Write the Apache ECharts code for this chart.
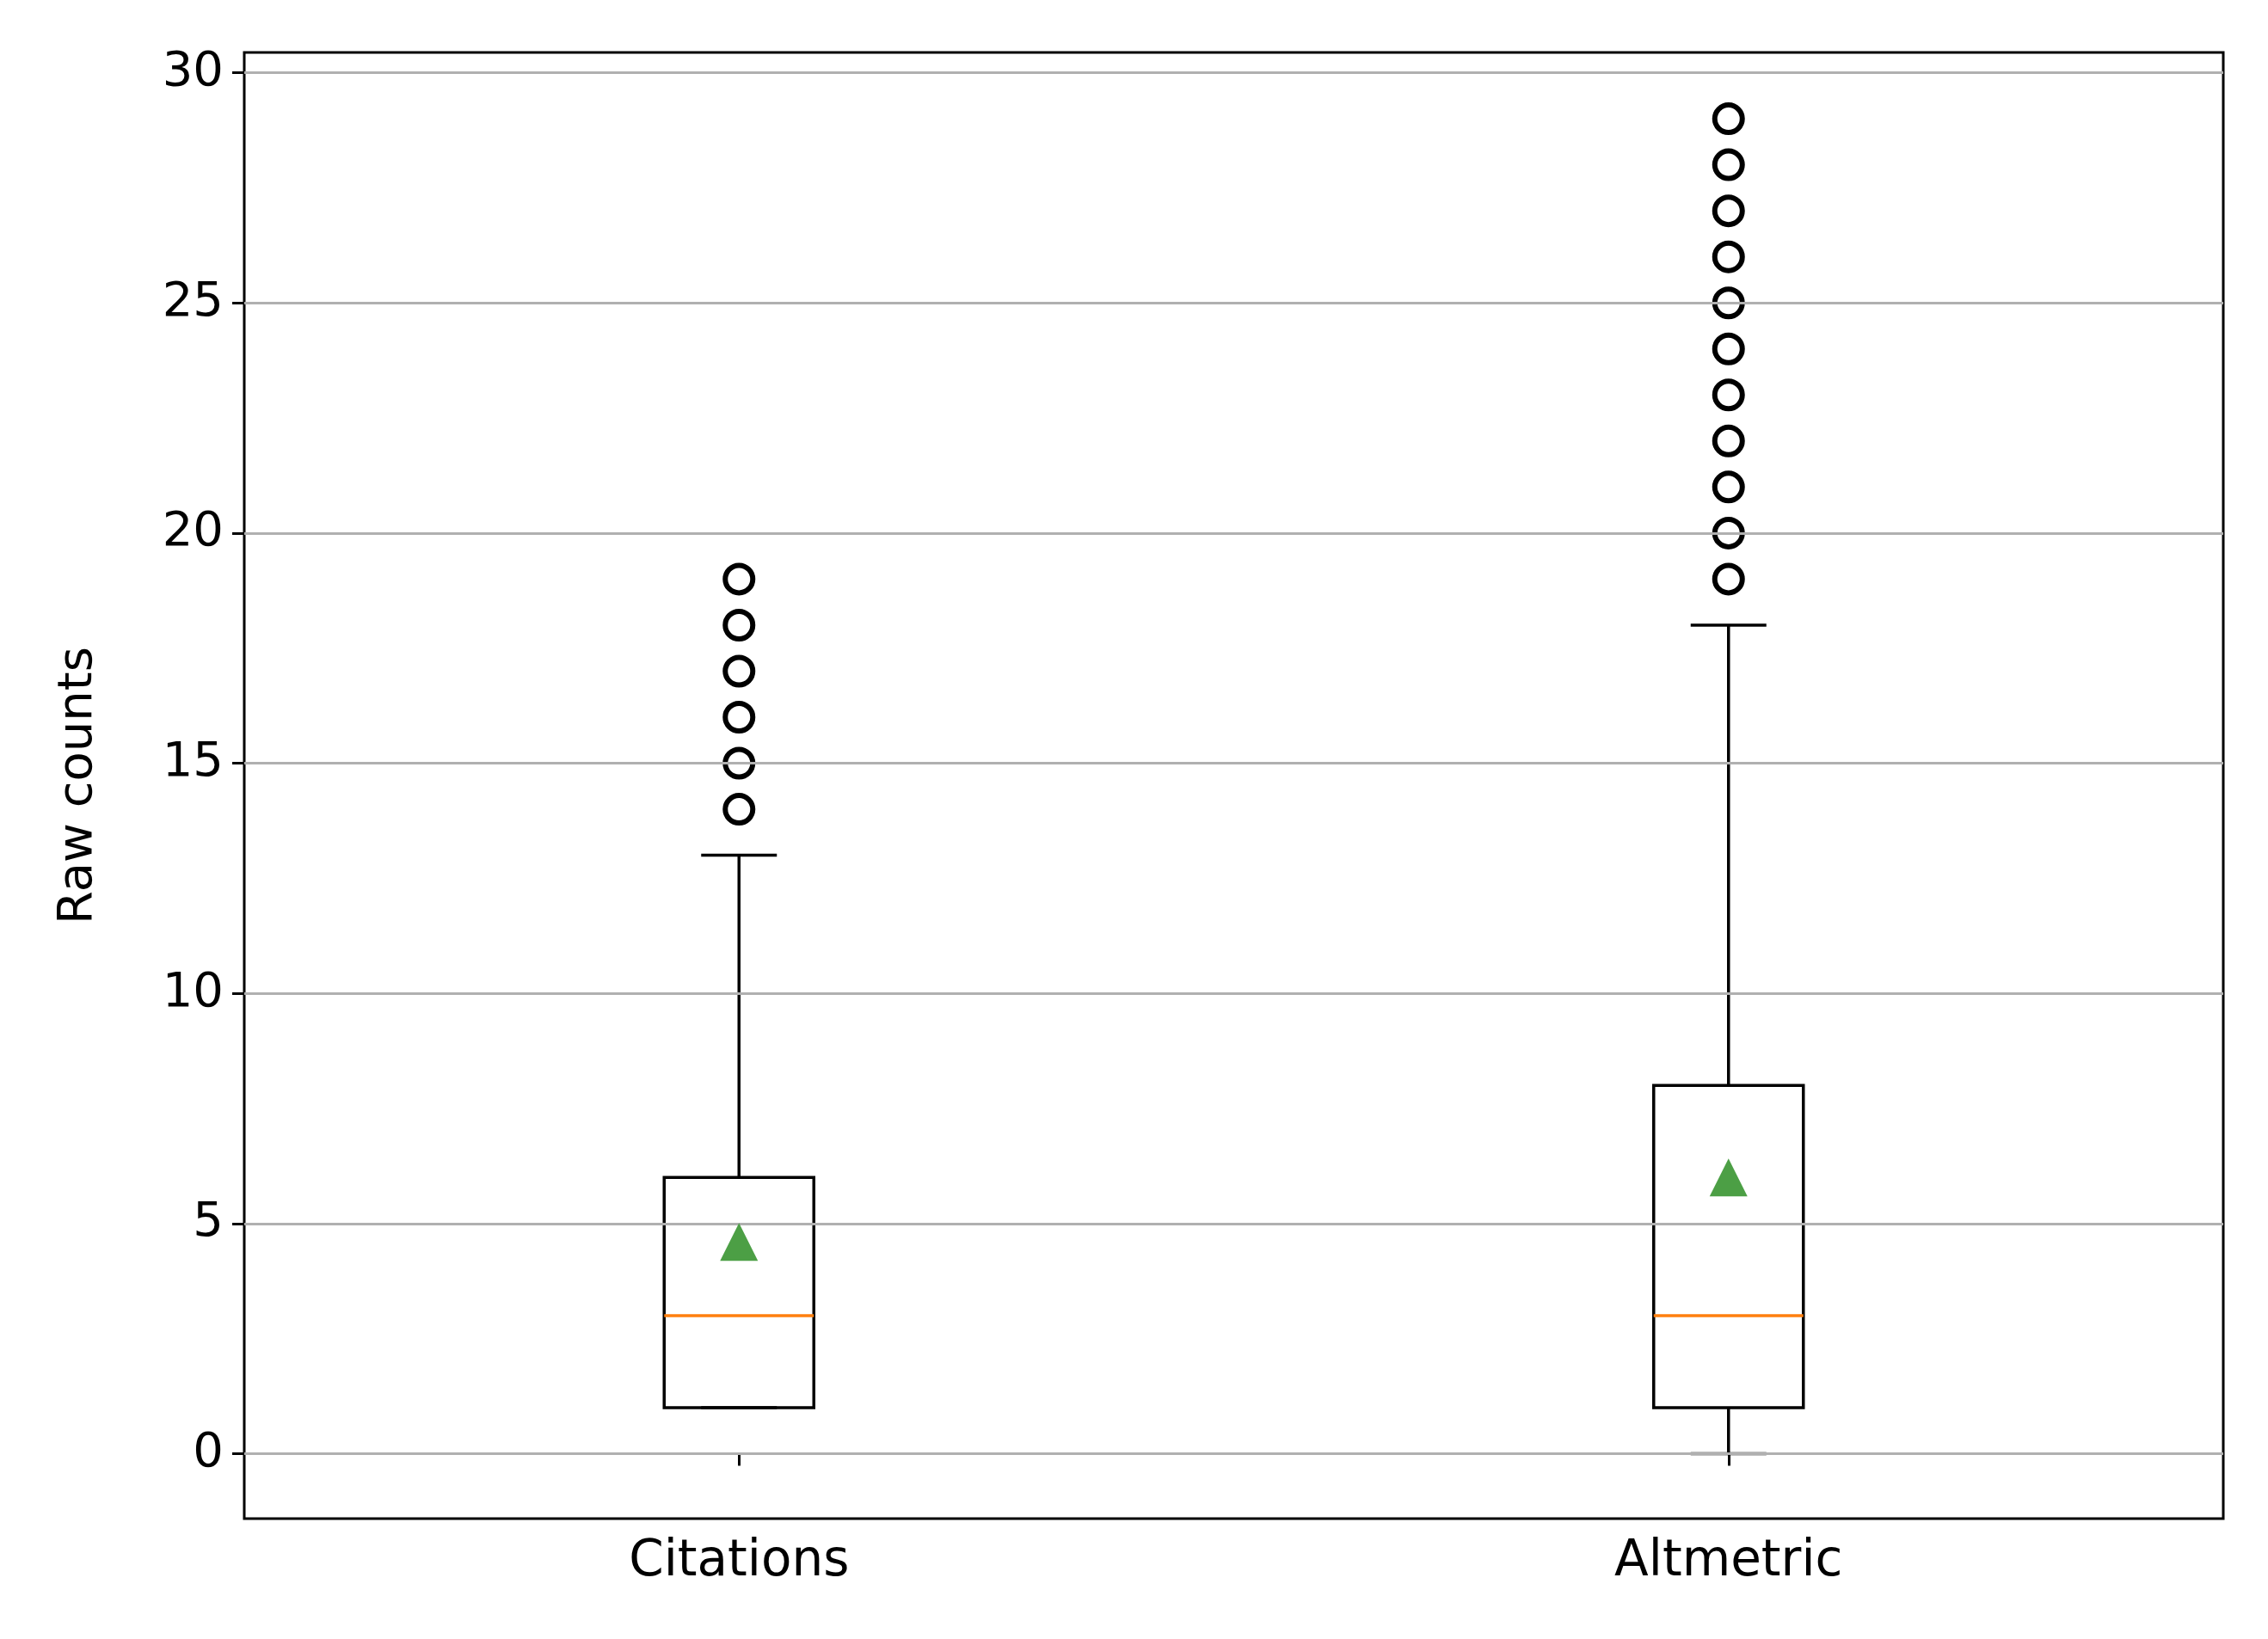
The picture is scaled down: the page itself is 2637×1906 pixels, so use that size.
<!DOCTYPE html>
<html>
<head>
<meta charset="utf-8">
<script src="https://cdn.jsdelivr.net/npm/echarts@6/dist/echarts.min.js"></script>
<style>html,body{margin:0;padding:0;background:#fff}#chart{width:2637px;height:1906px}</style>
</head>
<body>
<div id="chart"></div>
<script>
var categories = ['Citations', 'Altmetric'];
// [lower whisker, q1, median, q3, upper whisker]
var boxStats = [[1, 1, 3, 6, 13], [0, 1, 3, 8, 18]];
var means = [4.6, 6.0];
var citationOutliers = [14, 15, 16, 17, 18, 19];
var altmetricOutliers = [19, 20, 21, 22, 23, 24, 25, 26, 27, 28, 29];
var yTicks = [0, 5, 10, 15, 20, 25, 30];

var myChart = echarts.init(document.getElementById('chart'));
var font = 'DejaVu Sans';

var outlierData = [];
citationOutliers.forEach(function (v) { outlierData.push(['Citations', v]); });
altmetricOutliers.forEach(function (v) { outlierData.push(['Altmetric', v]); });

function renderBox(params, api) {
    var x = api.value(0);
    var lo = api.coord([x, api.value(1)]);
    var q1 = api.coord([x, api.value(2)]);
    var med = api.coord([x, api.value(3)]);
    var q3 = api.coord([x, api.value(4)]);
    var hi = api.coord([x, api.value(5)]);
    var half = 87, cap = 44, cx = lo[0];
    var ls = { stroke: '#000', lineWidth: 3.5 };
    return {
        type: 'group',
        children: [
            { type: 'line', shape: { x1: cx, y1: q3[1], x2: cx, y2: hi[1] }, style: ls },
            { type: 'line', shape: { x1: cx, y1: q1[1], x2: cx, y2: lo[1] }, style: ls },
            { type: 'line', shape: { x1: cx - cap, y1: hi[1], x2: cx + cap, y2: hi[1] }, style: ls },
            { type: 'line', shape: { x1: cx - cap, y1: lo[1], x2: cx + cap, y2: lo[1] }, style: ls },
            { type: 'rect', shape: { x: cx - half, y: q3[1], width: half * 2, height: q1[1] - q3[1] }, style: { fill: 'none', stroke: '#000', lineWidth: 3.5 } },
            { type: 'line', shape: { x1: cx - half, y1: med[1], x2: cx + half, y2: med[1] }, style: { stroke: '#ff7f0e', lineWidth: 3.5 } }
        ]
    };
}

option = {
    animation: false,
    backgroundColor: '#fff',
    grid: {
        left: 284, right: 52, top: 61, bottom: 140,
        show: true, borderColor: '#000', borderWidth: 3, backgroundColor: 'transparent'
    },
    xAxis: {
        type: 'category',
        data: categories,
        boundaryGap: true,
        axisLine: { show: false },
        axisTick: { show: true, alignWithLabel: true, length: 14, lineStyle: { color: '#000', width: 3 } },
        axisLabel: { color: '#000', fontSize: 58, fontFamily: font, margin: 22 },
        splitLine: { show: false }
    },
    yAxis: {
        type: 'value',
        min: -1.41, max: 30.44,
        name: 'Raw counts',
        nameLocation: 'middle',
        nameGap: 165,
        nameTextStyle: { color: '#000', fontSize: 56, fontFamily: font },
        axisLine: { show: false },
        axisTick: { show: true, length: 14, customValues: yTicks, lineStyle: { color: '#000', width: 3 } },
        axisLabel: { color: '#000', fontSize: 56, fontFamily: font, margin: 24, customValues: yTicks },
        splitLine: { show: false }
    },
    series: [
        {
            type: 'line',
            data: [],
            z: 1,
            markLine: {
                silent: true, symbol: 'none', label: { show: false },
                lineStyle: { color: '#b0b0b0', width: 3, type: 'solid' },
                data: yTicks.map(function (v) { return { yAxis: v }; })
            }
        },
        {
            type: 'custom',
            renderItem: renderBox,
            data: boxStats.map(function (s, i) { return [i].concat(s); }),
            z: 3
        },
        {
            type: 'scatter',
            data: outlierData,
            symbol: 'circle',
            symbolSize: 32,
            itemStyle: { color: '#fff', borderColor: '#000', borderWidth: 6, opacity: 1 },
            z: 4
        },
        {
            type: 'scatter',
            data: means.map(function (v, i) { return [categories[i], v]; }),
            symbol: 'triangle',
            symbolSize: 44,
            itemStyle: { color: '#4c9f45', opacity: 1 },
            z: 5
        }
    ]
};
myChart.setOption(option);
</script>
</body>
</html>
